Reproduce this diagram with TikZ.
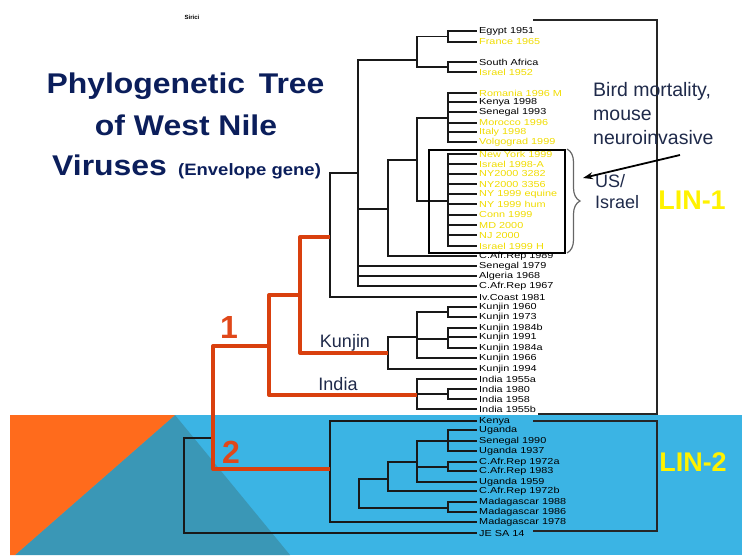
\documentclass[tikz,border=0pt]{standalone}
\usepackage{fontspec}
\setmainfont{Liberation Sans}
\newfontfamily\lblfont[FakeStretch=1.25]{Liberation Sans}
\newfontfamily\ttlfont[FakeStretch=1.12]{Liberation Sans}
\usetikzlibrary{arrows.meta,decorations.pathreplacing}
\definecolor{navy}{HTML}{0B1E5B}
\definecolor{txtnavy}{HTML}{1F2A4A}
\definecolor{bandblue}{HTML}{3BB4E4}
\definecolor{bandteal}{HTML}{3A97B6}
\definecolor{bandorange}{HTML}{FF6B1C}
\definecolor{redline}{HTML}{D9400E}
\definecolor{numred}{HTML}{E0481A}
\definecolor{leafyellow}{HTML}{F0DC00}
\definecolor{linyellow}{HTML}{FFF200}
\begin{document}
\begin{tikzpicture}[x=1pt,y=-1pt,
  leaf/.style={anchor=west,inner xsep=2pt,inner ysep=0pt,font=\lblfont\fontsize{8.7}{9}\selectfont,text=black},
  leafy/.style={leaf,text=leafyellow},
  br/.style={draw=black!90,line width=1.1pt},
  rbr/.style={draw=redline,line width=4pt,line join=round},
  boxline/.style={draw=black!85,line width=1.3pt},
  ttl/.style={anchor=base,inner sep=0pt,text=navy,font=\ttlfont\bfseries\fontsize{28.5}{30}\selectfont},
  note/.style={anchor=north west,align=left,inner sep=0pt,text=txtnavy},
  lin/.style={inner sep=0pt,text=linyellow,font=\bfseries\fontsize{27}{28}\selectfont},
  num/.style={inner sep=0pt,text=numred,font=\bfseries\fontsize{32}{34}\selectfont},
  clade/.style={inner sep=0pt,text=txtnavy,font=\fontsize{18}{20}\selectfont}]
\useasboundingbox (0,0) rectangle (742,555);
% background band
\fill[bandblue] (10,415) rectangle (742,555);
\fill[bandteal] (175,415) -- (290,555) -- (15,555) -- cycle;
\fill[bandorange] (10,415) -- (175,415) -- (15,555) -- (10,555) -- cycle;

% title
\node[inner sep=0pt,font=\bfseries\fontsize{6}{6}\selectfont] (sirici) at (192,17) {Sirici};
\node[ttl] (t1) at (185.5,93) {Phylogenetic\, Tree};
\node[ttl] (t2) at (186,135) {of West Nile};
\node[ttl,anchor=base west] (t3) at (52,175) {Viruses};
\node[ttl,anchor=base west,font=\ttlfont\bfseries\fontsize{16.5}{18}\selectfont] (t4) at (178,175) {(Envelope gene)};

% leaves
\node[leaf]  (egy)   at (477,31)  {Egypt 1951};
\node[leafy] (fra)   at (477,42)  {France 1965};
\node[leaf]  (saf)   at (477,62)  {South Africa};
\node[leafy] (isr52) at (477,72)  {Israel 1952};
\node[leafy] (rom)   at (477,93)  {Romania 1996 M};
\node[leaf]  (ken98) at (477,102) {Kenya 1998};
\node[leaf]  (sen93) at (477,112) {Senegal 1993};
\node[leafy] (mor)   at (477,123) {Morocco 1996};
\node[leafy] (ita)   at (477,132) {Italy 1998};
\node[leafy] (vol)   at (477,142) {Volgograd 1999};
\node[leafy] (nyk)   at (477,154) {New York 1999};
\node[leafy] (isrA)  at (477,164) {Israel 1998-A};
\node[leafy] (ny82)  at (477,174) {NY2000 3282};
\node[leafy] (ny56)  at (477,184) {NY2000 3356};
\node[leafy] (nyeq)  at (477,194) {NY 1999 equine};
\node[leafy] (nyhum) at (477,204) {NY 1999 hum};
\node[leafy] (conn)  at (477,215) {Conn 1999};
\node[leafy] (md)    at (477,225) {MD 2000};
\node[leafy] (nj)    at (477,235) {NJ 2000};
\node[leafy] (isrH)  at (477,246) {Israel 1999 H};
\node[leaf]  (car89) at (477,256) {C.Afr.Rep 1989};
\node[leaf]  (sen79) at (477,266) {Senegal 1979};
\node[leaf]  (alg)   at (477,276) {Algeria 1968};
\node[leaf]  (car67) at (477,286) {C.Afr.Rep 1967};
\node[leaf]  (ivc)   at (477,297) {Iv.Coast 1981};
\node[leaf]  (k60)   at (477,307) {Kunjin 1960};
\node[leaf]  (k73)   at (477,317) {Kunjin 1973};
\node[leaf]  (k84b)  at (477,328) {Kunjin 1984b};
\node[leaf]  (k91)   at (477,337) {Kunjin 1991};
\node[leaf]  (k84a)  at (477,348) {Kunjin 1984a};
\node[leaf]  (k66)   at (477,358) {Kunjin 1966};
\node[leaf]  (k94)   at (477,369) {Kunjin 1994};
\node[leaf]  (in55a) at (477,379) {India 1955a};
\node[leaf]  (in80)  at (477,389) {India 1980};
\node[leaf]  (in58)  at (477,399) {India 1958};
\node[leaf]  (in55b) at (477,409) {India 1955b};
\node[leaf]  (ken)   at (477,421) {Kenya};
\node[leaf]  (uga)   at (477,430) {Uganda};
\node[leaf]  (sen90) at (477,441) {Senegal 1990};
\node[leaf]  (uga37) at (477,451) {Uganda 1937};
\node[leaf]  (car72a) at (477,462) {C.Afr.Rep 1972a};
\node[leaf]  (car83) at (477,471) {C.Afr.Rep 1983};
\node[leaf]  (uga59) at (477,482) {Uganda 1959};
\node[leaf]  (car72b) at (477,491) {C.Afr.Rep 1972b};
\node[leaf]  (mad88) at (477,502) {Madagascar 1988};
\node[leaf]  (mad86) at (477,512) {Madagascar 1986};
\node[leaf]  (mad78) at (477,522) {Madagascar 1978};
\node[leaf]  (jesa)  at (477,533) {JE SA 14};

% internal nodes
\coordinate (cA) at (448,36.5);
\coordinate (cB) at (448,67);
\coordinate (cC) at (417,60);
\coordinate (cR) at (448,118);
\coordinate (cN) at (448,201);
\coordinate (cG) at (417,160);
\coordinate (cH) at (388,209);
\coordinate (cD) at (358,173);
\coordinate (cI) at (330,237);
\coordinate (cJ) at (300,295);
\coordinate (cK) at (388,353);
\coordinate (cK1) at (417,337);
\coordinate (cK2) at (448,312);
\coordinate (cK3) at (448,339);
\coordinate (cM) at (269,346);
\coordinate (cIn) at (417,395);
\coordinate (cIn2) at (448,394);
\coordinate (cR2) at (213,438);
\coordinate (cRoot) at (184,485);
\coordinate (cL2) at (330,469);
\coordinate (cP1) at (359,494);
\coordinate (cP2) at (388,479);
\coordinate (cP3) at (448,508);
\coordinate (cP4) at (417,462);
\coordinate (cP5) at (448,441);
\coordinate (cP6) at (448,467);

% black branches to leaves
\foreach \p/\c in {cA/egy,cA/fra,cB/saf,cB/isr52,
  cR/rom,cR/ken98,cR/sen93,cR/mor,cR/ita,cR/vol,
  cN/nyk,cN/isrA,cN/ny82,cN/ny56,cN/nyeq,cN/nyhum,cN/conn,cN/md,cN/nj,cN/isrH,
  cH/car89,cD/sen79,cD/alg,cD/car67,cI/ivc,
  cK2/k60,cK2/k73,cK3/k84b,cK3/k91,cK3/k84a,cK1/k66,cK/k94,
  cIn/in55a,cIn2/in80,cIn2/in58,cIn/in55b,
  cL2/ken,cP5/uga,cP5/sen90,cP5/uga37,cP6/car72a,cP6/car83,cP4/uga59,cP2/car72b,
  cP3/mad88,cP3/mad86,cL2/mad78,cRoot/jesa}
  \draw[br] (\p) |- (\c.west);
% black internal branches
\foreach \p/\c in {cC/cA,cC/cB,cD/cC,cG/cR,cG/cN,cH/cG,cD/cH,cI/cD,
  cK/cK1,cK1/cK2,cK1/cK3,cIn/cIn2,cRoot/cR2,
  cP1/cP2,cP1/cP3,cP2/cP4,cP4/cP5,cP4/cP6}
  \draw[br] (\p) |- (\c);
% red branches
\foreach \p/\c in {cJ/cI,cJ/cK,cM/cJ,cM/cIn,cR2/cM,cR2/cL2}
  \draw[rbr] (\p) |- (\c);

% boxes
\draw[boxline] (533,20) -- (657,20) -- (657,414) -- (538,414);
\draw[boxline] (533,421) -- (657,421) -- (657,531) -- (533,531);
\draw[draw=black,line width=1.2pt] (429,150) rectangle (565,253);
\draw[draw=black!60,line width=1.2pt,decorate,decoration={brace,amplitude=13pt}] (567,149) -- (567,253);

% labels
\node[num] (one) at (229,327) {1};
\node[num] (two) at (231,452) {2};
\node[clade] (kunjin) at (345,343) {Kunjin};
\node[clade] (india) at (338,384) {India};
\node[note,font=\fontsize{19.5}{24}\selectfont] (bird) at (593,82.5) {Bird mortality,\\mouse\\neuroinvasive};
\node[note,font=\fontsize{18}{21}\selectfont] (usis) at (595,174) {US/\\Israel};
\node[lin] (lin1) at (692,200) {LIN-1};
\node[lin] (lin2) at (693,462) {LIN-2};
\coordinate (atail) at (680,155);
\coordinate (ahead) at (583,178);
\draw[-{Stealth[length=10pt,width=7pt]},line width=1.8pt] (atail) -- (ahead);
\end{tikzpicture}
\end{document}
